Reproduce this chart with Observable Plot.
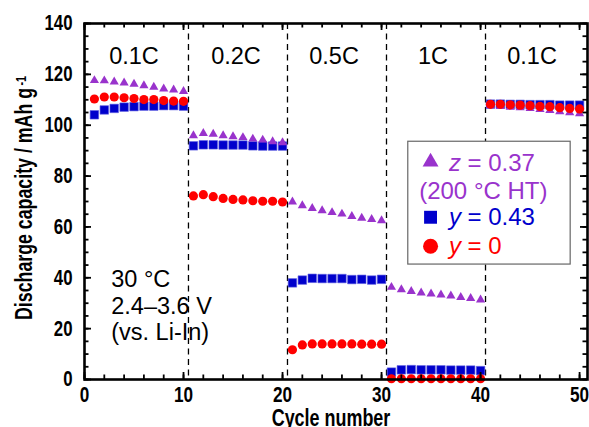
<!DOCTYPE html>
<html><head><meta charset="utf-8">
<script src="https://cdn.jsdelivr.net/npm/d3@7"></script>
<script src="https://cdn.jsdelivr.net/npm/@observablehq/plot@0.6"></script>
<style>body{margin:0;background:#fff}</style>
</head><body><div id="chart"></div>
<script>
// ---- data ----
const cycles = d3.range(1, 51);
const zHT = [117.6,117.5,117.1,116.7,116.2,115.6,115.0,114.3,113.9,113.3,
  95.9,96.8,96.5,95.9,95.5,95.2,94.6,94.2,93.6,93.2,
  69.9,68.4,67.3,66.4,65.7,65.1,64.2,63.5,63.0,62.5,
  36.3,35.4,34.7,34.1,33.7,33.3,32.9,32.3,31.9,31.3,
  107.7,107.4,107.1,106.9,106.6,106.2,105.8,105.4,105.0,104.6];
const y043 = [104.1,106.0,106.6,107.1,107.3,107.5,107.5,107.7,107.7,107.5,
  91.9,92.3,92.3,92.2,92.2,92.2,91.9,91.8,91.8,91.8,
  38.0,39.1,39.8,39.7,39.7,39.7,39.3,39.4,39.1,39.4,
  2.9,3.8,3.9,3.8,3.8,3.8,3.7,3.7,3.7,3.5,
  108.3,108.3,108.2,108.2,108.1,108.1,108.1,107.9,107.9,107.9];
const y0 = [110.3,111.1,111.1,110.8,110.5,110.1,110.1,109.7,109.5,109.4,
  72.2,72.7,71.9,71.2,70.8,70.6,70.3,70.1,70.1,69.8,
  11.7,13.6,14.0,14.0,14.0,14.0,14.0,13.9,13.9,13.9,
  0.3,0.3,0.3,0.3,0.3,0.3,0.3,0.3,0.3,0.3,
  108.2,108.2,108.0,107.9,107.7,107.4,107.3,106.9,106.6,106.4];
const dividers = [10.5, 20.5, 30.5, 40.5];
const rateNames = ["0.1C", "0.2C", "0.5C", "1C", "0.1C"];
const rateX = [5.0, 15.3, 25.2, 35.2, 45.2];
const condLines = ["30 °C", "2.4–3.6 V", "(vs. Li-In)"];
const condY = [39.2, 28.8, 18.3];
const xMajor = [0, 10, 20, 30, 40, 50];
const xMinor = d3.range(0, 51, 2);
const yMajor = [0, 20, 40, 60, 80, 100, 120, 140];
const yMinor = d3.range(0, 141, 5);
// legend (in data units)
const legendBox = [{x1: 32.7, x2: 49.1, y1: 45.2, y2: 93.5}];
const legendText = ["z = 0.37", "(200 °C HT)", "y = 0.43", "y = 0"];
const legendTextX = [36.8, 33.8, 36.8, 36.8];
const legendTextY = [85.0, 74.1, 63.6, 52.4];
const legendColor = ["#9933CC", "#9933CC", "#0000CC", "#FF0000"];
const legendSymX = 34.95;
const legendSymY = {triangle: 85.6, square: 63.8, circle: 52.4};

const PW = 589 - 84 - 2, PH = 427 - 23 - 48;
const narrow = "'Liberation Sans Narrow','Liberation Sans',Arial,sans-serif";
const sans = "'Liberation Sans',Arial,sans-serif";
const series = (vals) => cycles.map((c, i) => ({c, v: vals[i]}));

const plot = Plot.plot({
  width: 589, height: 427,
  marginLeft: 84, marginRight: 2, marginTop: 23, marginBottom: 48,
  x: {domain: [0, 50.8], axis: null},
  y: {domain: [0, 140], axis: null},
  style: {background: "white", fontFamily: sans},
  marks: [
    Plot.ruleX(dividers, {x: d => d, stroke: "black", strokeWidth: 1.3, strokeDasharray: "6,4.5"}),
    Plot.dot(series(y043), {x: "c", y: "v", symbol: "square", r: 4.8, fill: "#0000CC", stroke: "#5a5ae0", strokeWidth: 0.6}),
    Plot.dot(series(zHT), {x: "c", y: "v", symbol: "triangle", r: 3.4, fill: "#9933CC"}),
    Plot.dot(series(y0), {x: "c", y: "v", symbol: "circle", r: 4.6, fill: "#FF0000"}),
    // ticks (inward, all four sides)
    Plot.tickX(xMinor, {x: d => d, insetTop: PH - 4.5, stroke: "black", strokeWidth: 1.8}),
    Plot.tickX(xMajor, {x: d => d, insetTop: PH - 7, stroke: "black", strokeWidth: 1.8}),
    Plot.tickX(xMinor, {x: d => d, insetBottom: PH - 4.5, stroke: "black", strokeWidth: 1.8}),
    Plot.tickX(xMajor, {x: d => d, insetBottom: PH - 7, stroke: "black", strokeWidth: 1.8}),
    Plot.tickY(yMinor, {y: d => d, insetRight: PW - 4.5, stroke: "black", strokeWidth: 1.8}),
    Plot.tickY(yMajor, {y: d => d, insetRight: PW - 7, stroke: "black", strokeWidth: 1.8}),
    Plot.tickY(yMinor, {y: d => d, insetLeft: PW - 4.5, stroke: "black", strokeWidth: 1.8}),
    Plot.tickY(yMajor, {y: d => d, insetLeft: PW - 7, stroke: "black", strokeWidth: 1.8}),
    Plot.frame({stroke: "black", strokeWidth: 2.6}),
    // tick labels
    Plot.axisX(xMajor, {tickSize: 0, tickPadding: 7, fontSize: 22, fontWeight: "bold", fontFamily: narrow, label: null}),
    Plot.axisY(yMajor, {tickSize: 0, tickPadding: 12, fontSize: 21.5, fontWeight: "bold", fontFamily: narrow, label: null}),
    // axis titles
    Plot.text(["Cycle number"], {frameAnchor: "bottom", textAnchor: "middle", lineAnchor: "middle", dx: -5, dy: 39.6, fontSize: 23, fontWeight: "bold", fontFamily: narrow, fill: "black"}),
    Plot.text(["Discharge capacity / mAh g"], {frameAnchor: "left", textAnchor: "middle", lineAnchor: "middle", rotate: -90, dx: -59.4, dy: -3.5, fontSize: 23, fontWeight: "bold", fontFamily: narrow, fill: "black"}),
    // annotations
    Plot.text(rateNames, {x: (d, i) => rateX[i], y: 127, fontSize: 23.5, fill: "black"}),
    Plot.text(condLines, {x: 2.7, y: (d, i) => condY[i], textAnchor: "start", fontSize: 23.5, fill: "black"}),
    // legend
    Plot.rect(legendBox, {x1: "x1", x2: "x2", y1: "y1", y2: "y2", fill: "white", stroke: "#666", strokeWidth: 1.2}),
    Plot.dot([legendSymY.triangle], {x: legendSymX, y: d => d, symbol: "triangle", r: 5.9, fill: "#9933CC"}),
    Plot.dot([legendSymY.square], {x: legendSymX, y: d => d, symbol: "square", r: 7.3, fill: "#0000CC"}),
    Plot.dot([legendSymY.circle], {x: legendSymX, y: d => d, symbol: "circle", r: 7.5, fill: "#FF0000"}),
    Plot.text(legendText, {x: (d, i) => legendTextX[i], y: (d, i) => legendTextY[i], textAnchor: "start", fontSize: 24, fill: (d, i) => legendColor[i]})
  ]
});

const root = d3.select(plot);
root.selectAll("text").each(function() {
  const t = this.textContent;
  const m = t.match(/^([zy])( = .*)$/);
  if (m && this.children.length === 0) {
    this.textContent = "";
    d3.select(this).append("tspan").attr("font-style", "italic").text(m[1]);
    d3.select(this).append("tspan").text(m[2]);
  }
  if (t === "Discharge capacity / mAh g" && this.children.length === 0) {
    d3.select(this).append("tspan").attr("dx", 3).attr("dy", "-0.45em").attr("font-size", 14).text("-1");
  }
});
document.getElementById("chart").append(plot);
// emulate a narrow (condensed) bold face by compressing glyph advance
root.selectAll("g[font-family*='Narrow'] text").each(function() {
  const L = this.getComputedTextLength();
  if (L > 0) {
    this.setAttribute("textLength", (L * 0.78).toFixed(2));
    this.setAttribute("lengthAdjust", "spacingAndGlyphs");
  }
});
</script>
</body></html>
